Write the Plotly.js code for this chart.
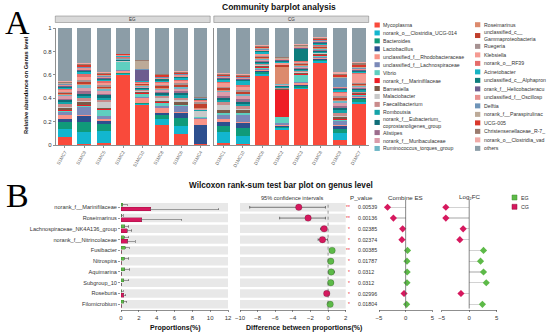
<!DOCTYPE html>
<html><head><meta charset="utf-8">
<script src="https://cdn.plot.ly/plotly-3.0.1.min.js"></script>
<style>html,body{margin:0;padding:0;background:#fff}#chart{width:550px;height:336px}</style>
</head><body><div id="chart"></div>
<script>
// ---------- Panel A data ----------
const egSamples = ["S1MC7","S1MC9","S1MC5","S1MC2","S1MC10","S1MC8","S1MC6","S1MC4"];
const cgSamples = ["D1MC1","D1MC10","D1MC6","D1MC2","D1MC3","D1MC8","D1MC9","D1MC7"];
const genera = ["Mycoplasma","norank_o__Clostridia_UCG-014","Bacteroides","Lactobacillus",
 "unclassified_f__Rhodobacteraceae","unclassified_f__Lachnospiraceae","Vibrio","norank_f__Marinifilaceae",
 "Barnesiella","Malaciobacter","Faecalibacterium","Romboutsia",
 "norank_f__Eubacterium_<br>coprostanoligenes_group","Alistipes","norank_f__Muribaculaceae","Ruminococcus_torques_group",
 "Roseimarinus","unclassified_c__<br>Gammaproteobacteria","Ruegeria","Klebsiella","norank_o__RF39","Acinetobacter",
 "unclassified_c__Alphapron","orank_f__Helicobacteracu","unclassified_f__Oscillosp","Delftia",
 "norank_f__Paraspirulinac","UCG-005","Christensenellaceae_R-7_","norank_o__Clostridia_vad","others"];
const generaColors = ["#F94A3B","#12B6CF","#109A79","#2D4F8E","#F99488","#7B89B8","#5FCFC0","#EE1E26",
 "#7B5A48","#C9C9C9","#C98B8B","#14A3A8","#0F6E78","#9C6C8C","#DB9CAA","#6FB7C6",
 "#DC8A6D","#C03F2C","#A69292","#F59A92","#E56C6A","#16B3C3","#0E7D7C","#6D5D8F","#E8918F","#6E94B8",
 "#BCAA98","#D9372A","#9A7B6E","#F0AAA6","#8C9DA7"];
// relative abundance per sample (genus order as above, last = others)
const egAbundance = [
 [0.066,0.068,0.066,0.02,0.035,0.03,0.008,0.003,0.02,0.012,0.02,0.02,0.015,0.012,0.02,0.015,0.005,0.01,0.01,0.012,0.01,0.012,0.01,0.005,0.01,0.008,0.004,0.008,0.008,0.008,0.45],
 [0.005,0.105,0.09,0.05,0.01,0.065,0.01,0.005,0.025,0.01,0.025,0.02,0.02,0.02,0.03,0.02,0.01,0.015,0.02,0.03,0.02,0.015,0.01,0.01,0.015,0.01,0.005,0.01,0.01,0.01,0.30],
 [0.02,0.1,0.06,0.025,0.015,0.03,0.05,0.005,0.015,0.045,0.02,0.02,0.02,0.015,0.02,0.015,0.01,0.015,0.01,0.02,0.015,0.01,0.01,0.01,0.01,0.008,0.004,0.01,0.008,0.005,0.38],
 [0.6,0.005,0.008,0.002,0.02,0.003,0.07,0.002,0.002,0.002,0.003,0.003,0.003,0.002,0.003,0.003,0.002,0.005,0.003,0.005,0.003,0.01,0.003,0.002,0.003,0.003,0.002,0.003,0.002,0.003,0.22],
 [0.34,0.01,0.005,0.003,0.04,0.01,0.03,0.008,0.008,0.005,0.01,0.008,0.008,0.005,0.01,0.005,0.005,0.008,0.005,0.01,0.005,0.005,0.005,0.09,0.005,0.005,0.07,0.004,0.005,0.003,0.27],
 [0.175,0.045,0.035,0.02,0.04,0.015,0.03,0.005,0.015,0.02,0.015,0.015,0.015,0.01,0.015,0.01,0.005,0.02,0.01,0.015,0.01,0.01,0.01,0.005,0.008,0.008,0.004,0.01,0.008,0.005,0.39],
 [0.09,0.075,0.07,0.035,0.015,0.045,0.01,0.005,0.025,0.015,0.02,0.02,0.02,0.015,0.02,0.015,0.005,0.015,0.015,0.015,0.01,0.015,0.01,0.005,0.01,0.008,0.004,0.01,0.008,0.005,0.37],
 [0.005,0.003,0.003,0.16,0.055,0.003,0.008,0.002,0.003,0.045,0.005,0.003,0.003,0.002,0.005,0.003,0.005,0.04,0.015,0.01,0.005,0.005,0.003,0.002,0.003,0.003,0.002,0.003,0.004,0.002,0.59]
];
const cgAbundance = [
 [0.02,0.09,0.055,0.035,0.02,0.04,0.01,0.005,0.02,0.05,0.02,0.02,0.02,0.015,0.03,0.015,0.005,0.015,0.015,0.03,0.01,0.015,0.01,0.005,0.01,0.008,0.004,0.01,0.008,0.005,0.385],
 [0.005,0.07,0.07,0.045,0.01,0.06,0.01,0.005,0.025,0.01,0.02,0.02,0.02,0.02,0.025,0.02,0.005,0.015,0.015,0.03,0.01,0.035,0.01,0.005,0.01,0.01,0.004,0.01,0.008,0.008,0.39],
 [0.59,0.015,0.02,0.005,0.01,0.01,0.01,0.005,0.01,0.005,0.01,0.01,0.01,0.008,0.01,0.008,0.005,0.01,0.008,0.015,0.008,0.01,0.008,0.005,0.008,0.008,0.004,0.01,0.008,0.008,0.149],
 [0.125,0.02,0.01,0.01,0.01,0.01,0.055,0.23,0.005,0.005,0.008,0.005,0.008,0.005,0.008,0.006,0.15,0.01,0.008,0.01,0.005,0.01,0.008,0.004,0.006,0.006,0.003,0.005,0.005,0.005,0.245],
 [0.475,0.01,0.02,0.005,0.02,0.01,0.06,0.005,0.01,0.005,0.01,0.01,0.01,0.008,0.01,0.008,0.005,0.01,0.008,0.01,0.005,0.008,0.1,0.004,0.008,0.005,0.003,0.008,0.006,0.005,0.139],
 [0.705,0.01,0.015,0.005,0.01,0.01,0.01,0.005,0.01,0.005,0.005,0.005,0.005,0.008,0.005,0.008,0.005,0.01,0.008,0.005,0.008,0.008,0.008,0.005,0.008,0.008,0.003,0.008,0.007,0.008,0.08],
 [0.045,0.055,0.04,0.02,0.01,0.035,0.01,0.005,0.02,0.01,0.025,0.02,0.02,0.015,0.025,0.02,0.01,0.02,0.015,0.025,0.01,0.015,0.01,0.005,0.015,0.075,0.005,0.02,0.01,0.01,0.38],
 [0.35,0.02,0.025,0.005,0.01,0.01,0.008,0.005,0.008,0.005,0.01,0.01,0.012,0.008,0.01,0.008,0.005,0.015,0.01,0.07,0.01,0.012,0.01,0.005,0.01,0.01,0.004,0.02,0.012,0.01,0.29]
];
const yTickVals = [0,0.2,0.4,0.6,0.8,1];
const yTickText = ["0","0.2","0.4","0.6","0.8","1"];

// ---------- Panel B data ----------
const wilcoxGenera = ["norank_f__Marinifilaceae","Roseimarinus","Lachnospiraceae_NK4A136_group","norank_f__Nitrincolaceae",
 "Fusibacter","Nitrospira","Aquimarina","Subgroup_10","Roseburia","Filomicrobium"];
const egMean = [0.2,0.1,0.4,0.35,0.5,0.38,0.4,0.3,0.1,0.3];
const egSd   = [0.5,0.15,0.45,0.5,0.4,0.5,0.6,0.55,0.15,0.35];
const cgMean = [3.36,2.3,0.72,0.78,0.05,0.05,0.05,0.03,0.3,0.03];
const cgSd   = [7.6,4.5,0.5,0.8,0.05,0.05,0.05,0.03,0.25,0.03];
const diffEst = [-3.33,-2.27,-0.45,-0.64,0.45,0.3,0.35,0.3,-0.15,0.23];
const ciLow   = [-8.9,-5.5,-0.86,-1.13,0.28,0.12,0.1,0.1,-0.35,0.05];
const ciHigh  = [-0.3,-0.3,-0.15,-0.05,0.62,0.55,0.72,0.6,-0.02,0.42];
const pValues = ["0.00539","0.00136","0.02385","0.02374","0.00385","0.01787","0.0312","0.0312","0.02996","0.01804"];
const signif  = ["**","**","*","*","**","*","*","*","*","*"];
const combineES = [-3.4,-2.3,-0.56,-0.7,0.35,0.25,0.28,0.25,-0.3,0.18];
const log2FC = [-4.25,-4.25,-1.1,-1.7,2.6,2.06,2.6,3.1,-1.5,2.4];
const groupNames = ["EG","CG"];
const groupColors = ["#5DBA48","#D6185E"];

// ---------- helpers ----------
const W = 550, H = 336;
const px = v => v / W, py = v => 1 - v / H;
const FONT = "Liberation Sans, Arial, sans-serif";
const colorBySign = arr => arr.map(v => v >= 0 ? groupColors[0] : groupColors[1]);

const traces = [];
genera.forEach((g, gi) => {
  traces.push({type:'bar', x: egSamples, y: egAbundance.map(r => r[gi]), xaxis:'x', yaxis:'y',
    name: g, marker:{color: generaColors[gi], line:{width:0}}, hoverinfo:'skip'});
  traces.push({type:'bar', x: cgSamples, y: cgAbundance.map(r => r[gi]), xaxis:'x2', yaxis:'y2',
    name: g, marker:{color: generaColors[gi], line:{width:0}}, hoverinfo:'skip'});
});
// proportions
traces.push({type:'bar', orientation:'h', x: egMean, y: wilcoxGenera, xaxis:'x3', yaxis:'y3',
  width:0.27, offset:-0.37, marker:{color: groupColors[0], line:{color:'#3E8E2E', width:0.4}},
  error_x:{type:'data', symmetric:false, array: egSd, arrayminus: egSd.map(() => 0), color:'#666', thickness:0.6, width:1.2}});
traces.push({type:'bar', orientation:'h', x: cgMean, y: wilcoxGenera, xaxis:'x3', yaxis:'y4',
  width:0.36, offset:-0.02, marker:{color: groupColors[1], line:{color:'#9E1042', width:0.4}},
  error_x:{type:'data', symmetric:false, array: cgSd, arrayminus: cgSd.map(() => 0), color:'#666', thickness:0.6, width:1.2}});
// difference + CI
traces.push({type:'scatter', mode:'markers', x: diffEst, y: wilcoxGenera, xaxis:'x4', yaxis:'y5',
  marker:{size:6.5, color: colorBySign(diffEst), line:{color:'rgba(0,0,0,0.35)', width:0.5}},
  error_x:{type:'data', symmetric:false, array: ciHigh.map((h,i) => h - diffEst[i]),
    arrayminus: ciLow.map((l,i) => diffEst[i] - l), color:'#444', thickness:0.7, width:1.3}});
// Combine ES lollipop
traces.push({type:'bar', orientation:'h', x: combineES, y: wilcoxGenera, xaxis:'x5', yaxis:'y5',
  width:0.11, marker:{color:'#D2D2D2', line:{width:0}}});
traces.push({type:'scatter', mode:'markers', x: combineES, y: wilcoxGenera, xaxis:'x5', yaxis:'y5',
  marker:{symbol:'diamond', size:5.5, color: colorBySign(combineES)}});
// Log2FC lollipop
traces.push({type:'bar', orientation:'h', x: log2FC, y: wilcoxGenera, xaxis:'x6', yaxis:'y5',
  width:0.11, marker:{color:'#D2D2D2', line:{width:0}}});
traces.push({type:'scatter', mode:'markers', x: log2FC, y: wilcoxGenera, xaxis:'x6', yaxis:'y5',
  marker:{symbol:'diamond', size:5.5, color: colorBySign(log2FC)}});

const lineAx = {showline:true, linecolor:'#444', linewidth:0.6, ticks:'outside', ticklen:2, tickwidth:0.6,
  tickcolor:'#444', showgrid:false, zeroline:false, fixedrange:true, tickfont:{size:6, color:'#333'}};
const catY = (extra) => Object.assign({type:'category', categoryorder:'array', categoryarray: wilcoxGenera,
  range:[9.5,-0.5], showgrid:false, zeroline:false, fixedrange:true,
  domain:[py(309.7), py(201.9)]}, extra);

const layout = {
  width:W, height:H, margin:{l:0,r:0,t:0,b:0}, paper_bgcolor:'#fff', plot_bgcolor:'rgba(0,0,0,0)',
  barmode:'stack', bargap:0.28, showlegend:false, font:{family:FONT, size:6, color:'#333'},
  xaxis: Object.assign({}, lineAx, {domain:[px(55.3),px(210.2)], anchor:'y', type:'category', tickangle:-60,
    tickfont:{size:4.6, color:'#666'}}),
  yaxis: Object.assign({}, lineAx, {domain:[py(145),py(28)], anchor:'x', range:[0,1],
    tickmode:'array', tickvals:yTickVals, ticktext:yTickText}),
  xaxis2: Object.assign({}, lineAx, {domain:[px(213.8),px(368.7)], anchor:'y2', type:'category', tickangle:-60,
    tickfont:{size:4.6, color:'#666'}}),
  yaxis2: Object.assign({}, lineAx, {domain:[py(145),py(28)], anchor:'x2', range:[0,1], showticklabels:false, ticks:''}),
  xaxis3: Object.assign({}, lineAx, {domain:[px(121),px(228)], anchor:'y3', range:[0,12], dtick:2, tick0:0}),
  yaxis3: catY({anchor:'x3', ticks:'outside', ticklen:2, tickwidth:0.6, tickcolor:'#555', showline:false,
    tickfont:{size:5.6, color:'#333'}}),
  yaxis4: catY({anchor:'x3', overlaying:'y3', visible:false}),
  xaxis4: Object.assign({}, lineAx, {domain:[px(240),px(345.7)], anchor:'y5', range:[-10,2], dtick:2, tick0:0}),
  yaxis5: catY({anchor:'x4', visible:false}),
  xaxis5: Object.assign({}, lineAx, {domain:[px(379),px(432.3)], anchor:'y5', range:[-5,5], dtick:5, tick0:0}),
  xaxis6: Object.assign({}, lineAx, {domain:[px(441.7),px(496.7)], anchor:'y5', range:[-5,5], dtick:5, tick0:0}),
  shapes:[], annotations:[]
};

const S = layout.shapes, A = layout.annotations;
// facet strips
[[55.3,210.2,"EG"],[213.8,368.7,"CG"]].forEach(([a,b,t]) => {
  S.push({type:'rect', xref:'paper', yref:'paper', x0:px(a), x1:px(b), y0:py(22.5), y1:py(16),
    fillcolor:'#D9D9D9', line:{color:'#777', width:0.5}});
  A.push({xref:'paper', yref:'paper', x:px((a+b)/2), y:py(19.3), text:t, showarrow:false,
    font:{size:4.5, color:'#333'}, xanchor:'center', yanchor:'middle'});
});
// legend for panel A (two columns)
function legendCol(idxs, xs, y0, step) {
  let prevC = null, prevH = 0;
  idxs.forEach(i => {
    const two = genera[i].indexOf('<br>') >= 0;
    const h = two ? step * 1.55 : step;
    const c = prevC === null ? y0 : prevC + prevH/2 + h/2;
    S.push({type:'rect', xref:'paper', yref:'paper', x0:px(xs), x1:px(xs+5.3), y0:py(c+2.5), y1:py(c-2.5),
      fillcolor: generaColors[i], line:{width:0}});
    A.push({xref:'paper', yref:'paper', x:px(xs+6.8), y:py(c), text: genera[i], showarrow:false, align:'left',
      xanchor:'left', yanchor:'middle', font:{size:5.2, color:'#333'}});
    prevC = c; prevH = h;
  });
}
legendCol([...Array(16).keys()], 374.5, 25, 7.94);
legendCol([...Array(15).keys()].map(k => k + 16), 475, 24.7, 8.5);

// row bands
wilcoxGenera.forEach((g, i) => {
  S.push({type:'rect', layer:'below', xref:'x3 domain', yref:'y3', x0:0, x1:1, y0:i-0.39, y1:i+0.39,
    fillcolor:'#E8E8E8', line:{width:0}});
  S.push({type:'rect', layer:'below', xref:'x4 domain', yref:'y5', x0:0, x1:1, y0:i-0.39, y1:i+0.39,
    fillcolor:'#E8E8E8', line:{width:0}});
  A.push({xref:'paper', yref:'y5', x:px(355.5), y:g, text:pValues[i], showarrow:false, xanchor:'left',
    yanchor:'middle', font:{size:5.3, color:'#333'}});
  A.push({xref:'paper', yref:'y5', x:px(352), y:g, text:signif[i], showarrow:false, xanchor:'right',
    yanchor:'middle', font:{size:5, color:'#E8283A'}});
});
S.push({type:'line', xref:'x4', yref:'y5 domain', x0:0, x1:0, y0:0, y1:1, line:{color:'#555', width:0.6, dash:'dot'}});
S.push({type:'line', xref:'x5', yref:'paper', x0:0, x1:0, y0:py(308.5), y1:py(200), line:{color:'#555', width:0.7}});
S.push({type:'line', xref:'x6', yref:'paper', x0:0, x1:0, y0:py(308.5), y1:py(200), line:{color:'#555', width:0.7}});

// group legend
groupNames.forEach((n, i) => {
  const c = 197.5 + i * 9.3;
  S.push({type:'rect', xref:'paper', yref:'paper', x0:px(512), x1:px(517), y0:py(c+2.5), y1:py(c-2.5),
    fillcolor: groupColors[i], line:{color: i ? '#8E0F3D' : '#3E8E2E', width:0.5}});
  A.push({xref:'paper', yref:'paper', x:px(518.5), y:py(c), text:n, showarrow:false, xanchor:'left',
    yanchor:'middle', font:{size:5.3, color:'#333'}});
});

// titles and labels
const addText = (x, y, text, size, opts) => A.push(Object.assign({xref:'paper', yref:'paper', x:px(x), y:py(y),
  text, showarrow:false, xanchor:'center', yanchor:'middle', font:{size, color:'#111', family:FONT}}, opts || {}));
addText(279, 6.5, "<b>Community barplot analysis</b>", 8.5);
addText(26, 85, "<b>Relative abundance on Genus level</b>", 5.8, {textangle:-90});
addText(281, 185, "<b>Wilcoxon rank-sum test bar plot on genus level</b>", 8.2);
addText(175, 328.3, "<b>Proportions(%)</b>", 7);
addText(304, 328.3, "<b>Difference between proportions(%)</b>", 7);
addText(292, 197.5, "95% confidence intervals", 5.6, {font:{size:5.6, color:'#333', family:FONT}});
addText(361, 197.5, "P_value", 6.2, {font:{size:6.2, color:'#333', family:FONT}});
addText(405.5, 197.3, "Combine ES", 6.2, {font:{size:6.2, color:'#333', family:FONT}});
addText(470, 197.3, "Log<sub>2</sub>FC", 6.2, {font:{size:6.2, color:'#333', family:FONT}});
addText(17, 23, "A", 34, {font:{size:34, color:'#000', family:"Liberation Serif, Times New Roman, serif"}});
addText(17.5, 195, "B", 34, {font:{size:34, color:'#000', family:"Liberation Serif, Times New Roman, serif"}});

Plotly.newPlot('chart', traces, layout, {staticPlot:true, displayModeBar:false});
</script></body></html>
